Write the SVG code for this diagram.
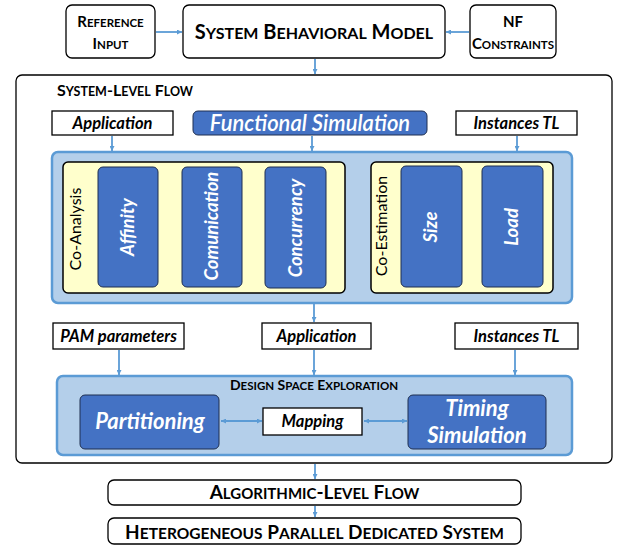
<svg xmlns="http://www.w3.org/2000/svg" width="621" height="546" viewBox="0 0 621 546">
<defs>
<marker id="ah" viewBox="0 0 10 10" refX="10" refY="5" markerWidth="5" markerHeight="5" orient="auto-start-reverse" markerUnits="userSpaceOnUse">
<path d="M0,0 L10,5 L0,10 z" fill="#5B9BD5"/>
</marker>
<style>
.box{fill:#fff;stroke:#000;stroke-width:1.3}
.blue{fill:#4472C4;stroke:#1F2F50;stroke-width:1}
.cont{fill:#B4CFEA;stroke:#5B9BD5;stroke-width:2.5}
.yel{fill:#FFFFCC;stroke:#000;stroke-width:1.5}
.t{font-family:Lato,"Open Sans",sans-serif;fill:#000}
.b{font-weight:bold}
.bi{font-weight:bold;font-style:italic}
.w{fill:#fff}
.c{text-anchor:middle}
.conn line{stroke:#5B9BD5;stroke-width:1.8;marker-end:url(#ah)}
</style>
</defs>

<g id="reference-input">
<rect class="box" x="66" y="5" width="89" height="53" rx="6"/>
<text class="t b c" x="110.5" y="27" font-size="15">R<tspan font-size="11.5">EFERENCE</tspan></text>
<text class="t b c" x="110.5" y="49" font-size="15">I<tspan font-size="11.5">NPUT</tspan></text>
</g>
<g id="system-behavioral-model">
<rect class="box" x="183" y="5" width="262" height="53" rx="6"/>
<text class="t b c" x="314" y="39" font-size="20">S<tspan font-size="16">YSTEM</tspan> B<tspan font-size="16">EHAVIORAL</tspan> M<tspan font-size="16">ODEL</tspan></text>
</g>
<g id="nf-constraints">
<rect class="box" x="470" y="5" width="86" height="53" rx="6"/>
<text class="t b c" x="513" y="27" font-size="15">NF</text>
<text class="t b c" x="513" y="49" font-size="15">C<tspan font-size="11.5">ONSTRAINTS</tspan></text>
</g>

<g id="system-level-flow">
<rect class="box" x="16" y="75" width="596" height="388" rx="6"/>
<text class="t b" x="57" y="96" font-size="16">S<tspan font-size="12.5">YSTEM</tspan>-L<tspan font-size="12.5">EVEL</tspan> F<tspan font-size="12.5">LOW</tspan></text>
</g>

<g id="application-1">
<rect class="box" x="52" y="111" width="121" height="24"/>
<text class="t bi c" x="112.5" y="129" font-size="16.5">Application</text>
</g>
<g id="functional-simulation">
<rect class="blue" x="193" y="111" width="234" height="24" rx="5"/>
<text class="t c w" x="310" y="131" font-size="22" font-style="italic" font-weight="600">Functional Simulation</text>
</g>
<g id="instances-tl-1">
<rect class="box" x="456" y="111" width="121" height="24"/>
<text class="t bi c" x="516.5" y="129" font-size="16.5">Instances TL</text>
</g>

<g id="analysis-container">
<rect class="cont" x="52" y="152" width="520" height="151" rx="6"/>
</g>
<g id="co-analysis">
<rect class="yel" x="63" y="162" width="282" height="131" rx="5"/>
<text class="t c" transform="translate(81,229) rotate(-90)" font-size="16">Co-Analysis</text>
</g>
<g id="affinity">
<rect class="blue" x="98" y="167" width="60" height="120" rx="5"/>
<text class="t bi c w" transform="translate(134,227) rotate(-90)" font-size="18.5">Affinity</text>
</g>
<g id="comunication">
<rect class="blue" x="182" y="167" width="60" height="120" rx="5"/>
<text class="t bi c w" transform="translate(218,226) rotate(-90)" font-size="18.5">Comunication</text>
</g>
<g id="concurrency">
<rect class="blue" x="265" y="167" width="61" height="121" rx="5"/>
<text class="t bi c w" transform="translate(302,228) rotate(-90)" font-size="18.5">Concurrency</text>
</g>
<g id="co-estimation">
<rect class="yel" x="371" y="162" width="182" height="131" rx="5"/>
<text class="t c" transform="translate(387,226) rotate(-90)" font-size="16">Co-Estimation</text>
</g>
<g id="size">
<rect class="blue" x="401" y="166" width="61" height="121" rx="5"/>
<text class="t bi c w" transform="translate(437,227) rotate(-90)" font-size="18.5">Size</text>
</g>
<g id="load">
<rect class="blue" x="482" y="166" width="61" height="121" rx="5"/>
<text class="t bi c w" transform="translate(518,227) rotate(-90)" font-size="18.5">Load</text>
</g>

<g id="pam-parameters">
<rect class="box" x="53" y="323" width="131" height="26"/>
<text class="t bi c" x="118.5" y="342" font-size="16.5">PAM parameters</text>
</g>
<g id="application-2">
<rect class="box" x="262" y="323" width="109" height="26"/>
<text class="t bi c" x="316.5" y="342" font-size="16.5">Application</text>
</g>
<g id="instances-tl-2">
<rect class="box" x="455" y="323" width="123" height="26"/>
<text class="t bi c" x="516.5" y="342" font-size="16.5">Instances TL</text>
</g>

<g id="design-space-exploration">
<rect class="cont" x="57" y="376" width="515" height="79" rx="6"/>
<text class="t b c" x="314" y="390" font-size="14">D<tspan font-size="11.5">ESIGN</tspan> S<tspan font-size="11.5">PACE</tspan> E<tspan font-size="11.5">XPLORATION</tspan></text>
</g>
<g id="partitioning">
<rect class="blue" x="80" y="395" width="139" height="54" rx="5"/>
<text class="t bi c w" x="150" y="429" font-size="22">Partitioning</text>
</g>
<g id="mapping">
<rect class="box" x="263" y="408" width="99" height="27"/>
<text class="t bi c" x="312.5" y="427" font-size="16.5">Mapping</text>
</g>
<g id="timing-simulation">
<rect class="blue" x="408" y="395" width="138" height="54" rx="5"/>
<text class="t bi c w" x="477" y="416" font-size="22">Timing</text>
<text class="t bi c w" x="477" y="443" font-size="22">Simulation</text>
</g>

<g id="algorithmic-level-flow">
<rect class="box" x="108" y="480" width="413" height="25" rx="6"/>
<text class="t b c" x="314.5" y="499" font-size="19">A<tspan font-size="15">LGORITHMIC</tspan>-L<tspan font-size="15">EVEL</tspan> F<tspan font-size="15">LOW</tspan></text>
</g>
<g id="heterogeneous-system">
<rect class="box" x="108" y="518" width="413" height="26" rx="6"/>
<text class="t b c" x="314.5" y="539" font-size="19">H<tspan font-size="15.5">ETEROGENEOUS</tspan> P<tspan font-size="15.5">ARALLEL</tspan> D<tspan font-size="15.5">EDICATED</tspan> S<tspan font-size="15.5">YSTEM</tspan></text>
</g>

<g id="connectors" class="conn">
<line x1="156" y1="32" x2="182" y2="32"/>
<line x1="469" y1="32" x2="446" y2="32"/>
<line x1="315" y1="59" x2="315" y2="74"/>
<line x1="112" y1="136" x2="112" y2="151"/>
<line x1="312" y1="136" x2="312" y2="151"/>
<line x1="517" y1="136" x2="517" y2="151"/>
<line x1="314" y1="304" x2="314" y2="322"/>
<line x1="119" y1="350" x2="119" y2="375"/>
<line x1="314" y1="350" x2="314" y2="375"/>
<line x1="515" y1="350" x2="515" y2="375"/>
<line x1="221" y1="421" x2="262" y2="421" marker-start="url(#ah)"/>
<line x1="364" y1="421" x2="407" y2="421" marker-start="url(#ah)"/>
<line x1="315" y1="464" x2="315" y2="479"/>
<line x1="315" y1="506" x2="315" y2="517"/>
</g>
</svg>
